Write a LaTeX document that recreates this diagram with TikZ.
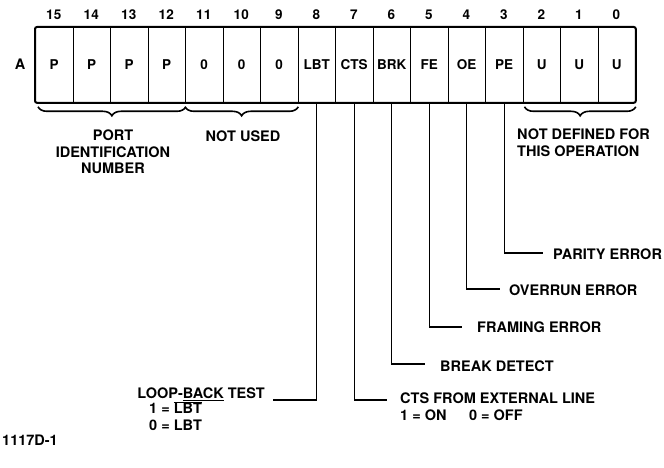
\documentclass[tikz,border=0pt]{standalone}
\usepackage{fontspec}
\setmainfont{TeX Gyre Heros}
\usetikzlibrary{decorations.pathreplacing,calc}
\begin{document}
\begin{tikzpicture}[x=1pt,y=-1pt,
  font=\bfseries\fontsize{14.5}{16.5}\selectfont,
  cell/.style={draw, line width=0.8pt, minimum width=37.5pt, minimum height=75pt, inner sep=0pt, anchor=north west, font=\bfseries\fontsize{13.5}{16}\selectfont},
  bitnum/.style={font=\bfseries\fontsize{13.5}{14}\selectfont, inner sep=0pt},
  lead/.style={line width=1.3pt},
  br/.style={decorate, decoration={brace, mirror, amplitude=9pt, aspect=0.5}, line width=1.6pt},
  lab/.style={anchor=west, inner sep=0pt, align=left}]
\useasboundingbox (0,0) rectangle (664,468);
% register cells
\foreach \b/\t [count=\i from 0] in {15/P,14/P,13/P,12/P,11/0,10/0,9/0,8/LBT,7/CTS,6/BRK,5/FE,4/OE,3/PE,2/U,1/U,0/U}{
  \node[cell] (c\b) at ({35+37.5*\i},27) {\t};
  \node[bitnum] (n\b) at ({35+37.5*\i+18.75},15) {\b};
}
\draw[line width=2pt, rounded corners=2pt] (c15.north west) rectangle (c0.south east);
\node (a) at (20,64) {A};
% braces
\draw[br] ($(c15.south west)+(3,4)$) -- ($(c12.south east)+(0,4)$);
\draw[br] ($(c11.south west)+(0,4)$) -- ($(c9.south east)+(0,4)$);
\draw[br] ($(c2.south west)+(2,4)$) -- ($(c0.south east)+(0,4)$);
\node[align=center, inner sep=0pt] (pin) at (113,152) {PORT\\IDENTIFICATION\\NUMBER};
\node[inner sep=0pt] (nu) at (243,136) {NOT USED};
\node[anchor=north west, align=left, inner sep=0pt] (ndf) at (517,129) {NOT DEFINED FOR\\THIS OPERATION};
% status labels
\node[lab] (pe) at (553,254) {PARITY ERROR};
\node[lab] (oe) at (509,290) {OVERRUN ERROR};
\node[lab] (fe) at (477,327) {FRAMING ERROR};
\node[lab] (brk) at (440,366) {BREAK DETECT};
\node[lab, anchor=north west] (cts) at (400,393) {CTS FROM EXTERNAL LINE\\1 = ON \quad\ 0 = OFF};
\node[anchor=east, inner sep=0pt] (lbt) at (265,394) {LOOP-\underline{BACK} TEST};
\node[anchor=north west, align=left, inner sep=0pt] (lbtv) at (149,401) {1 = $\overline{\hbox{LBT}}$\\0 = LBT};
\node[anchor=west, inner sep=0pt] (fig) at (2,440) {1117D-1};
% leads
\coordinate (pee) at (543,253);
\coordinate (oee) at (500,289);
\coordinate (fee) at (462,327);
\coordinate (brke) at (425,364);
\coordinate (ctse) at (387,400);
\coordinate (lbte) at (273,400);
\draw[lead] (c3.south) |- (pee);
\draw[lead] (c4.south) |- (oee);
\draw[lead] (c5.south) |- (fee);
\draw[lead] (c6.south) |- (brke);
\draw[lead] (c7.south) |- (ctse);
\draw[lead] (c8.south) |- (lbte);
\end{tikzpicture}
\end{document}
